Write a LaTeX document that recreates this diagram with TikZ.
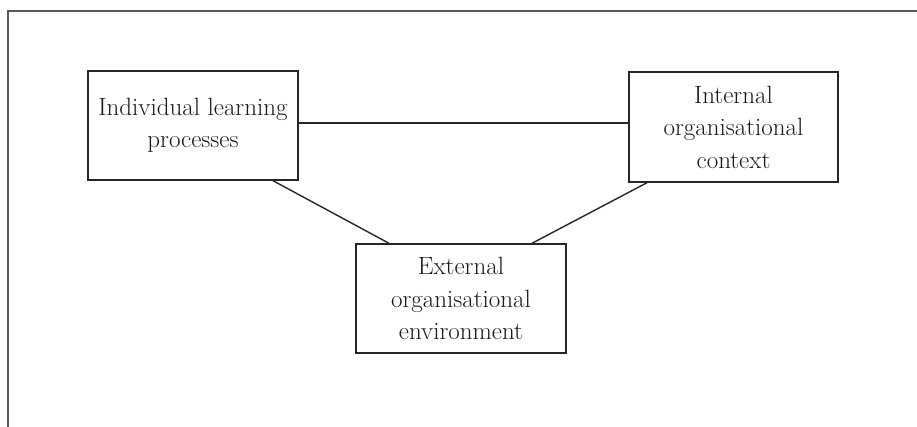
\documentclass[tikz,border=0pt]{standalone}
\usepackage{tikz}
\begin{document}
\begin{tikzpicture}[x=1pt,y=1pt,
  frameline/.style={line width=1.4pt, draw=black!65},
  factor/.style={draw=black!85, line width=1.4pt, minimum width=210pt, minimum height=109pt,
    align=center, inner sep=0pt, font=\fontsize{25}{32.5}\selectfont, text=black!90},
  link/.style={line width=1.4pt, draw=black!85}]
  \useasboundingbox (0,0) rectangle (917,427);
  % open outer frame (left and top edges)
  \coordinate (fbl) at (8,0);
  \coordinate (ftl) at (8,416);
  \coordinate (ftr) at (917,416);
  \draw[frameline] (fbl) -- (ftl) -- (ftr);
  % the three factors
  \node[factor] (ind) at (193,301.5) {Individual learning\\processes};
  \node[factor, minimum width=209pt, minimum height=110pt] (int) at (733.5,300) {Internal\\organisational\\context};
  \node[factor] (ext) at (461,128.5) {External\\organisational\\environment};
  % connectors
  \draw[link] ([yshift=2.5pt]ind.east) -- ([yshift=2.5pt]ind.east -| int.west);
  \draw[link] ([xshift=80pt]ind.south) -- ([xshift=-72pt]ext.north);
  \draw[link] ([xshift=-86.5pt]int.south) -- ([xshift=71pt]ext.north);
\end{tikzpicture}
\end{document}
